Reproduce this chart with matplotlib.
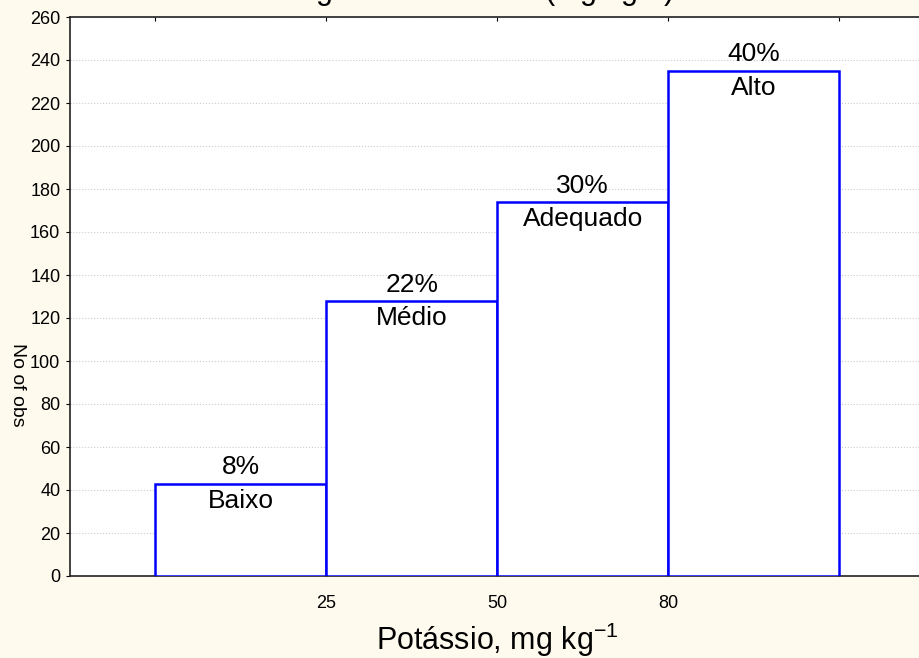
import numpy as np
import matplotlib.pyplot as plt

plt.rcParams['font.family'] = ['Liberation Sans', 'DejaVu Sans']
plt.rcParams['mathtext.fontset'] = 'custom'
plt.rcParams['mathtext.rm'] = 'Liberation Sans'

# histogram classes of soil potassium
classes = ['Baixo', 'Médio', 'Adequado', 'Alto']
counts = [43, 128, 174, 235]
percents = ['8%', '22%', '30%', '40%']
edge_labels = ['', '25', '50', '80', '']

W, H = 919, 658
fig = plt.figure(figsize=(W / 100, H / 100), dpi=100)
fig.patch.set_facecolor('#fffaee')

ax = fig.add_axes([70 / W, (H - 576) / H, (924.5 - 70) / W, (576 - 17) / H])
ax.set_facecolor('white')

x = np.arange(len(classes))
ax.bar(x, counts, width=1.0, align='edge', facecolor='white',
       edgecolor='#0000ff', linewidth=1.8, zorder=3)

for xi, c, p, name in zip(x, counts, percents, classes):
    ax.text(xi + 0.5, c + 2, p, ha='center', va='bottom', fontsize=19, zorder=4)
    ax.text(xi + 0.5, c - 2.5, name, ha='center', va='top', fontsize=19, zorder=4)

ax.set_xlim(-0.5, 4.5)
ax.set_ylim(0, 260)
ax.set_yticks(np.arange(0, 261, 20))
ax.set_xticks(np.arange(5))
ax.set_xticklabels(edge_labels)
ax.grid(axis='y', color='#cccccc', linestyle=':', linewidth=0.8, zorder=0)

ax.tick_params(axis='y', direction='out', length=3, labelsize=13, pad=4)
ax.tick_params(axis='x', direction='in', length=3, labelsize=13, pad=14,
               top=True)
for s in ['left', 'bottom', 'top']:
    ax.spines[s].set_linewidth(1.2)
    ax.spines[s].set_color('#222222')

ax.set_xlabel(r'Potássio, mg kg$^{\mathrm{-1}}$', fontsize=22, labelpad=6)
ax.set_ylabel('No of obs', fontsize=14, rotation=270, va='center')
ax.yaxis.set_label_coords(-70 / 854.5 + 17 / 854.5, (576 - 385) / 559)

# title is mostly cut off at the top of the image
fig.text(0.5, 1.0, 'Histograma: Potássio (mg kg$^{-1}$)', ha='center',
         va='baseline', fontsize=22)

fig.savefig('out.png', dpi=100, facecolor=fig.get_facecolor())
